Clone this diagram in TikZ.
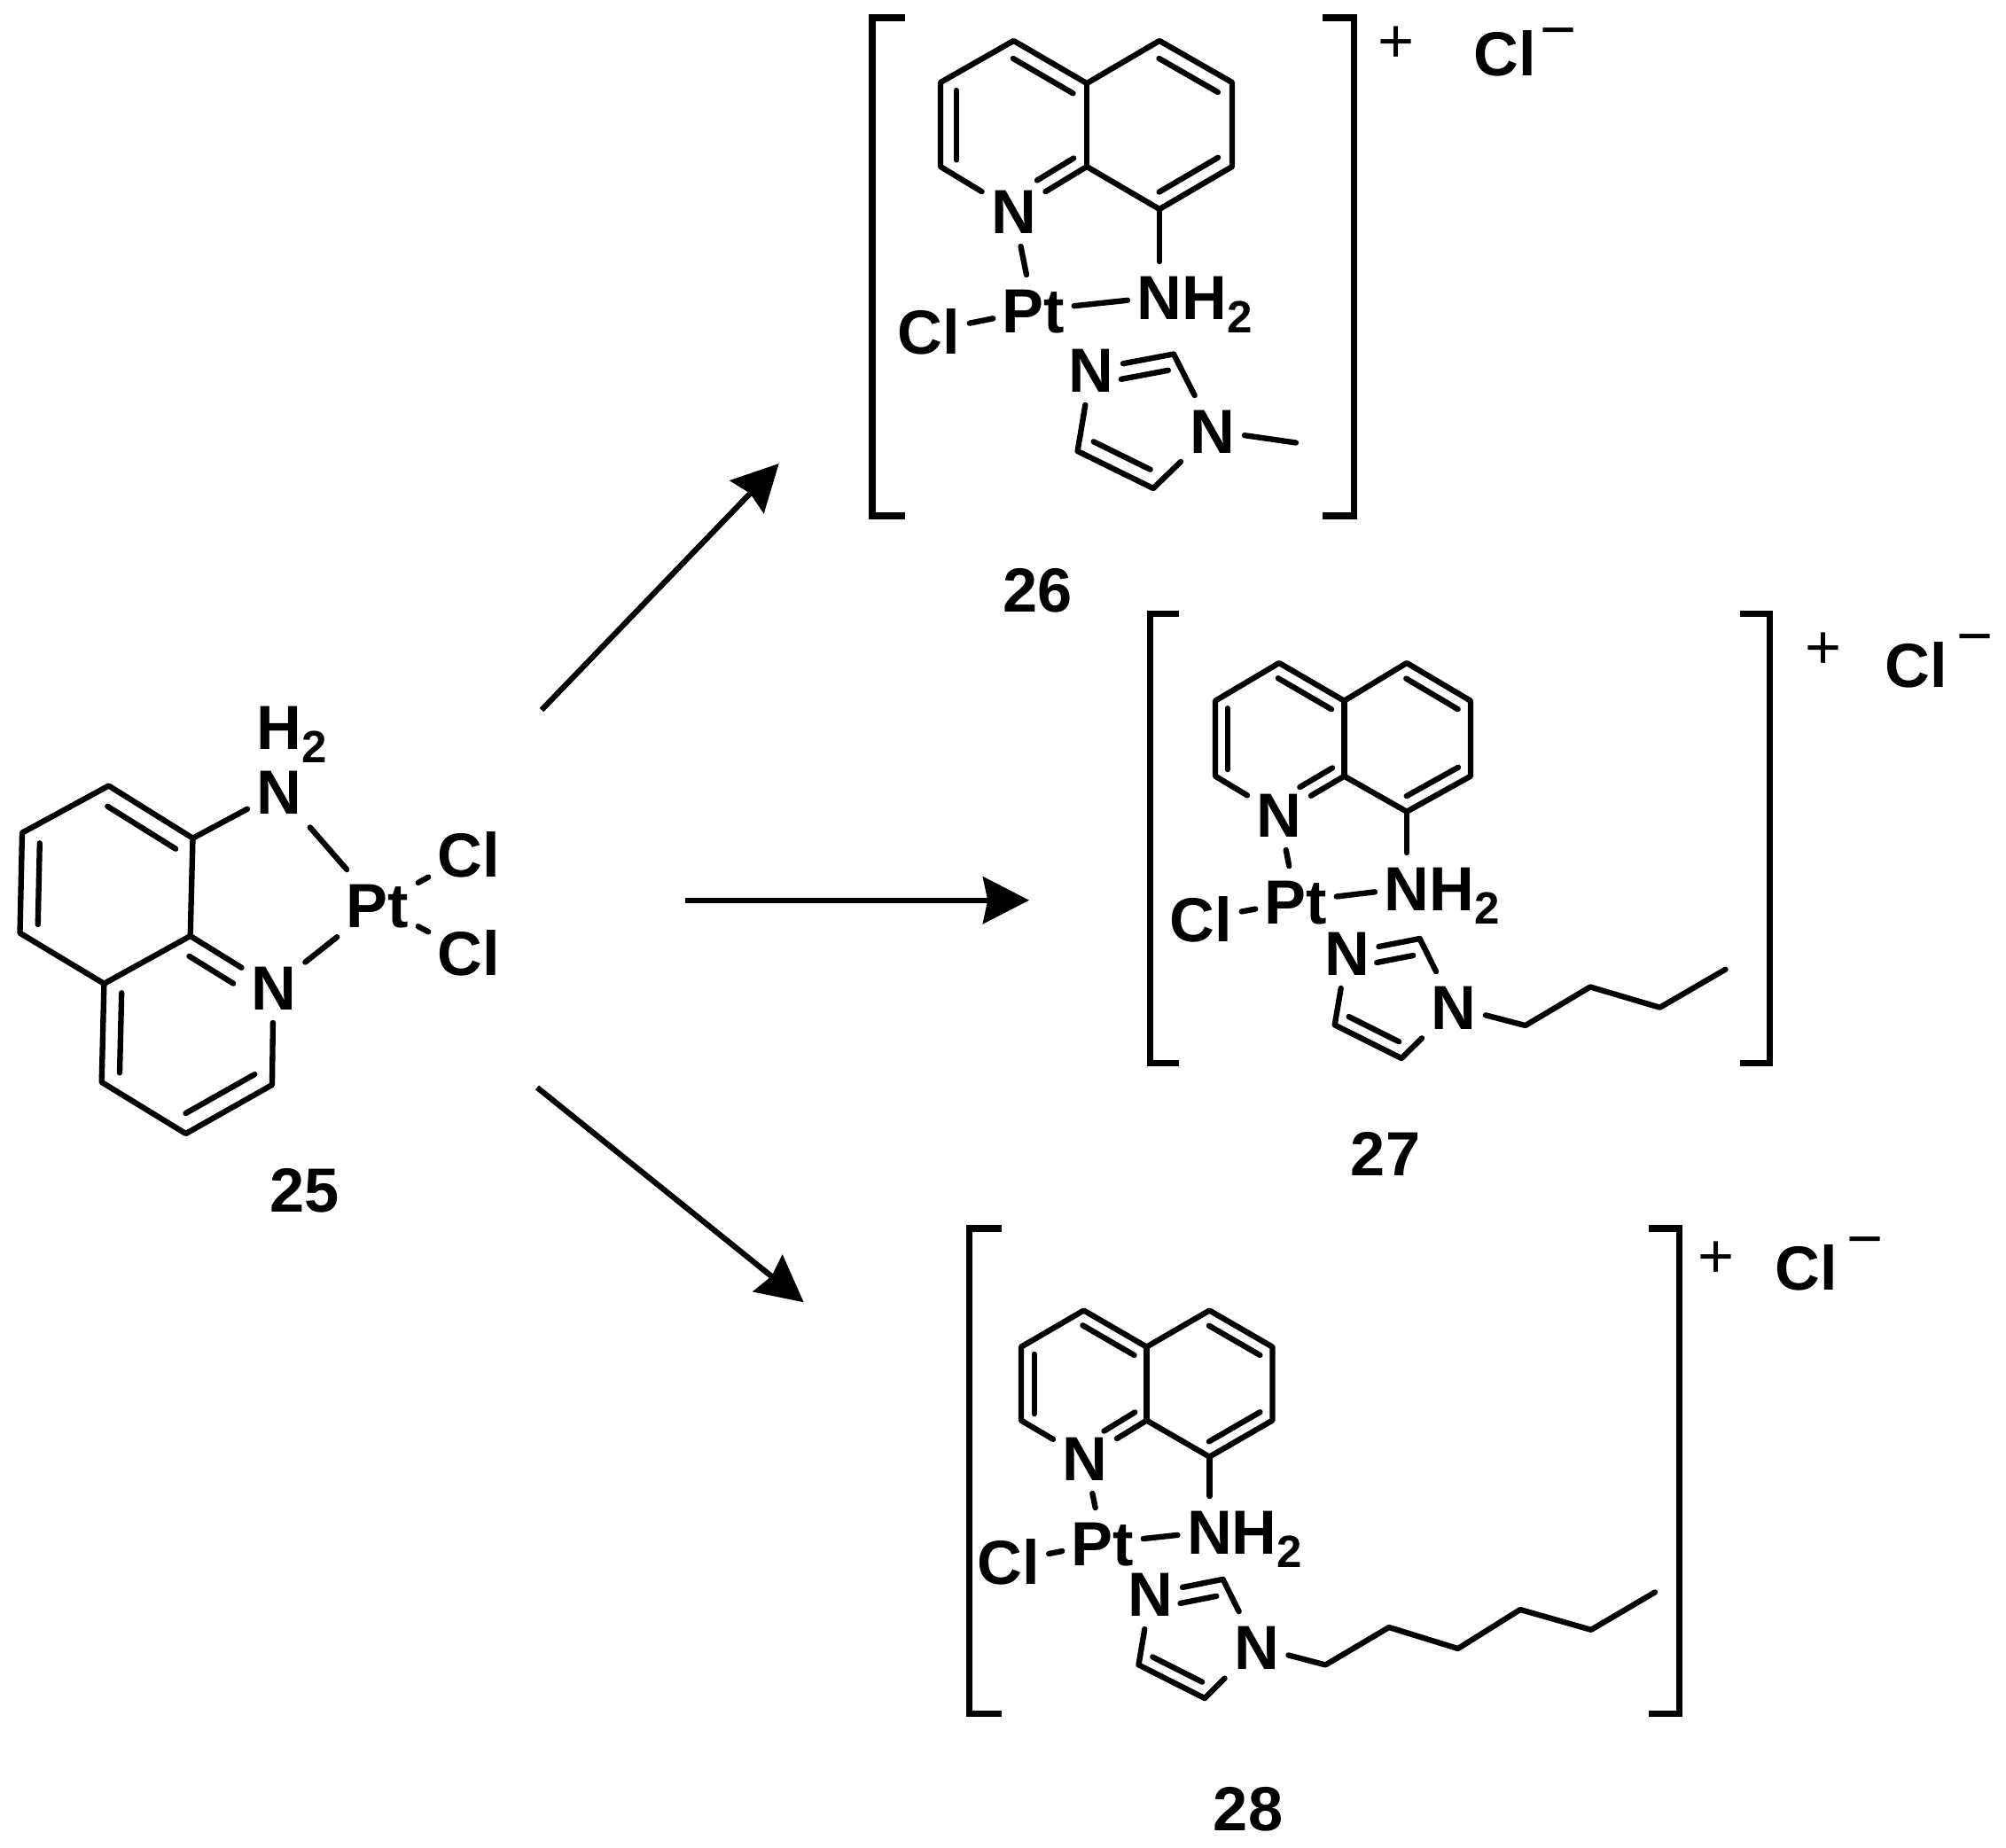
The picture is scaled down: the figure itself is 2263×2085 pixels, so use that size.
\documentclass[tikz,border=0pt]{standalone}
\usepackage{fontspec}
\setmainfont{Liberation Sans}
\usetikzlibrary{calc,arrows.meta}
\tikzset{
    bond/.style={line width=1.8pt,line cap=round,line join=round},
    bracket/.style={line width=2pt,line join=miter},
    atom/.style={font=\fontsize{20}{24}\bfseries\selectfont,text height=14.3pt,text depth=0pt,inner xsep=2.8pt,inner ysep=4pt},
    charge/.style={font=\fontsize{20}{24}\selectfont,inner sep=0pt},
    rxn/.style={line width=1.8pt,-{Stealth[length=14.8pt,width=15pt,inset=1.5pt]}},
}
\newcommand{\subtwo}{\raisebox{-4.3pt}{\fontsize{14.5}{16}\selectfont 2}}
\newcommand{\innerbond}[5]{\draw[bond] ($(#1)!#3!(#2)!#5!90:(#2)$) to ($(#1)!#4!(#2)!#5!90:(#2)$);}
\begin{document}
\begin{tikzpicture}[x=0.01cm,y=-0.01cm]
    \useasboundingbox (0,0) rectangle (2263,2085);

    % 25
    \coordinate (p1) at (122.6,886.5);
    \coordinate (p2) at (25,939.6);
    \coordinate (p3) at (22.5,1052.7);
    \coordinate (p4) at (117.4,1109.8);
    \coordinate (p5) at (214.7,1056);
    \coordinate (p6) at (217.5,945.7);
    \coordinate (p7) at (114.7,1221);
    \coordinate (p8) at (209.6,1279);
    \coordinate (p9) at (307,1224);
    \node[atom] (nup25) at (315,893.5){N};
    \node[atom] (hup25) at (315,820){H\rlap{\subtwo}};
    \node[atom] (nlo25) at (308.4,1114){N};
    \node[atom] (pt25) at (426,1021){Pt};
    \node[atom] (cla25) at (529,964.5){Cl};
    \node[atom] (clb25) at (529,1075.5){Cl};
    \node[atom] (lab25) at (344,1342.4){25};
    \draw[bond] (p6) to (p1) to (p2) to (p3) to (p4) to (p5) to (p6);
    \draw[bond] (p4) to (p7) to (p8) to (p9) to (nlo25) to (p5);
    \draw[bond] (p6) to (nup25);
    \draw[bond] (nup25) to (pt25);
    \draw[bond] (nlo25) to (pt25);
    \draw[bond] (pt25) to (cla25);
    \draw[bond] (pt25) to (clb25);
    \innerbond{p2}{p3}{.1}{.91}{5.7pt}
    \innerbond{p6}{p1}{.09}{.9}{5.8pt}
    \innerbond{p4}{p7}{.09}{.9}{5.7pt}
    \innerbond{p8}{p9}{.1}{.9}{5.7pt}
    \innerbond{nlo25}{p5}{.37}{.9}{5.7pt}

    % arrows
    \coordinate (sa) at (611,801);
    \coordinate (ta) at (878.7,523);
    \coordinate (sb) at (773,1015.7);
    \coordinate (tb) at (1161,1015.7);
    \coordinate (sc) at (606,1227);
    \coordinate (tc) at (906.7,1469.3);
    \draw[rxn] (sa) to (ta);
    \draw[rxn] (sb) to (tb);
    \draw[rxn] (sc) to (tc);

    % 26
    \coordinate (a26) at (1143.5,46);
    \coordinate (b26) at (1061,93);
    \coordinate (c26) at (1061,188);
    \coordinate (d26) at (1226,188);
    \coordinate (e26) at (1226,94);
    \coordinate (f26) at (1308,46);
    \coordinate (g26) at (1390,93);
    \coordinate (h26) at (1390,188);
    \coordinate (i26) at (1308,236);
    \coordinate (co26) at (1324,399.5);
    \coordinate (cu26) at (1301,551);
    \coordinate (cv26) at (1215.6,509);
    \coordinate (me26) at (1462,499.5);
    \node[atom] (n26) at (1143.5,238){N};
    \node[atom] (nh26) at (1308,335){N\rlap{H\subtwo}};
    \node[atom] (pt26) at (1166,350){Pt};
    \node[atom] (cl26) at (1048,374){Cl};
    \node[atom] (na26) at (1231,417){N};
    \node[atom] (nb26) at (1368,486){N};
    \node[atom] (ion26) at (1698,60){Cl};
    \node[charge] (plus26) at (1575,50){+};
    \node[charge] (minus26) at (1758,44.5){−};
    \node[atom] (lab26) at (1170.5,665){26};
    \draw[bond] (n26) to (c26) to (b26) to (a26) to (e26) to (f26) to (g26) to (h26) to (i26) to (d26) to (n26);
    \draw[bond] (e26) to (d26);
    \draw[bond] (i26) to (nh26);
    \draw[bond] (n26) to (pt26);
    \draw[bond] (pt26) to (nh26);
    \draw[bond] (cl26) to (pt26);
    \draw[bond] (na26) to (co26) to (nb26) to (cu26) to (cv26) to (na26);
    \draw[bond] (nb26) to (me26);
    \innerbond{e26}{a26}{.08}{.9}{5pt}
    \innerbond{b26}{c26}{.095}{.92}{5.1pt}
    \innerbond{n26}{d26}{.42}{.92}{4.5pt}
    \innerbond{g26}{f26}{.09}{.9}{5pt}
    \innerbond{i26}{h26}{.1}{.91}{4.8pt}
    \innerbond{co26}{na26}{.1}{.67}{4.8pt}
    \innerbond{cv26}{cu26}{.12}{.87}{5pt}
    \draw[bracket] (1020.5,20) -- (984,20) -- (984,582) -- (1020.5,582);
    \draw[bracket] (1492,20) -- (1527,20) -- (1527,582) -- (1492,582);

    % 27
    \coordinate (a27) at (1443,748);
    \coordinate (b27) at (1371,790.7);
    \coordinate (c27) at (1371,875.7);
    \coordinate (d27) at (1516.4,875.7);
    \coordinate (e27) at (1516.4,790.7);
    \coordinate (f27) at (1587,748);
    \coordinate (g27) at (1659,790.7);
    \coordinate (h27) at (1659,875.7);
    \coordinate (i27) at (1587,915.7);
    \coordinate (co27) at (1601.6,1059);
    \coordinate (cu27) at (1581,1194);
    \coordinate (cv27) at (1505.7,1156.4);
    \coordinate (ra27) at (1720.8,1157);
    \coordinate (rb27) at (1794,1113.5);
    \coordinate (rc27) at (1872.5,1136.7);
    \coordinate (rd27) at (1946.5,1093.7);
    \node[atom] (n27) at (1443,919){N};
    \node[atom] (nh27) at (1587,1002){N\rlap{H\subtwo}};
    \node[atom] (pt27) at (1462,1017){Pt};
    \node[atom] (cl27) at (1355,1037){Cl};
    \node[atom] (na27) at (1519.5,1075){N};
    \node[atom] (nb27) at (1640,1136){N};
    \node[atom] (ion27) at (2162,750){Cl};
    \node[charge] (plus27) at (2057,734){+};
    \node[charge] (minus27) at (2228,729){−};
    \node[atom] (lab27) at (1563,1301){27};
    \draw[bond] (n27) to (c27) to (b27) to (a27) to (e27) to (f27) to (g27) to (h27) to (i27) to (d27) to (n27);
    \draw[bond] (e27) to (d27);
    \draw[bond] (i27) to (nh27);
    \draw[bond] (n27) to (pt27);
    \draw[bond] (pt27) to (nh27);
    \draw[bond] (cl27) to (pt27);
    \draw[bond] (na27) to (co27) to (nb27) to (cu27) to (cv27) to (na27);
    \draw[bond] (nb27) to (ra27) to (rb27) to (rc27) to (rd27);
    \innerbond{e27}{a27}{.09}{.91}{4.4pt}
    \innerbond{b27}{c27}{.1}{.91}{3.9pt}
    \innerbond{n27}{d27}{.42}{.92}{4.2pt}
    \innerbond{g27}{f27}{.09}{.9}{4.4pt}
    \innerbond{i27}{h27}{.1}{.91}{4.4pt}
    \innerbond{co27}{na27}{.13}{.63}{4.9pt}
    \innerbond{cv27}{cu27}{.12}{.87}{4.4pt}
    \draw[bracket] (1330,692.6) -- (1297.5,692.6) -- (1297.5,1199.8) -- (1330,1199.8);
    \draw[bracket] (1963,692.6) -- (1996.6,692.6) -- (1996.6,1199.8) -- (1963,1199.8);

    % 28
    \coordinate (a28) at (1222.6,1478.5);
    \coordinate (b28) at (1152,1519.6);
    \coordinate (c28) at (1152,1602.6);
    \coordinate (d28) at (1293.5,1602.6);
    \coordinate (e28) at (1293.5,1519.6);
    \coordinate (f28) at (1364.4,1478.5);
    \coordinate (g28) at (1435.4,1519.6);
    \coordinate (h28) at (1435.4,1602.6);
    \coordinate (i28) at (1364.4,1643.6);
    \coordinate (co28) at (1379.6,1781.8);
    \coordinate (cu28) at (1359,1916);
    \coordinate (cv28) at (1284.5,1878.4);
    \coordinate (ra28) at (1495.3,1878.4);
    \coordinate (rb28) at (1567,1836);
    \coordinate (rc28) at (1644.7,1860);
    \coordinate (rd28) at (1715,1816);
    \coordinate (re28) at (1794.9,1838.8);
    \coordinate (rf28) at (1867,1796.4);
    \node[atom] (n28) at (1224,1645){N};
    \node[atom] (nh28) at (1364.4,1728){N\rlap{H\subtwo}};
    \node[atom] (pt28) at (1244,1741){Pt};
    \node[atom] (cl28) at (1137.5,1762){Cl};
    \node[atom] (na28) at (1298,1798){N};
    \node[atom] (nb28) at (1417.5,1858){N};
    \node[atom] (ion28) at (2038,1430){Cl};
    \node[charge] (plus28) at (1936.4,1421){+};
    \node[charge] (minus28) at (2104,1409){−};
    \node[atom] (lab28) at (1408,2040){28};
    \draw[bond] (n28) to (c28) to (b28) to (a28) to (e28) to (f28) to (g28) to (h28) to (i28) to (d28) to (n28);
    \draw[bond] (e28) to (d28);
    \draw[bond] (i28) to (nh28);
    \draw[bond] (n28) to (pt28);
    \draw[bond] (pt28) to (nh28);
    \draw[bond] (cl28) to (pt28);
    \draw[bond] (na28) to (co28) to (nb28) to (cu28) to (cv28) to (na28);
    \draw[bond] (nb28) to (ra28) to (rb28) to (rc28) to (rd28) to (re28) to (rf28);
    \innerbond{e28}{a28}{.09}{.91}{4.3pt}
    \innerbond{b28}{c28}{.1}{.91}{4.2pt}
    \innerbond{n28}{d28}{.42}{.92}{4.2pt}
    \innerbond{g28}{f28}{.09}{.9}{4.3pt}
    \innerbond{i28}{h28}{.1}{.91}{4.3pt}
    \innerbond{co28}{na28}{.13}{.63}{4.9pt}
    \innerbond{cv28}{cu28}{.12}{.87}{4.3pt}
    \draw[bracket] (1130,1386) -- (1093.8,1386) -- (1093.8,1933) -- (1130,1933);
    \draw[bracket] (1859.6,1386) -- (1894.7,1386) -- (1894.7,1933) -- (1859.6,1933);
\end{tikzpicture}
\end{document}
